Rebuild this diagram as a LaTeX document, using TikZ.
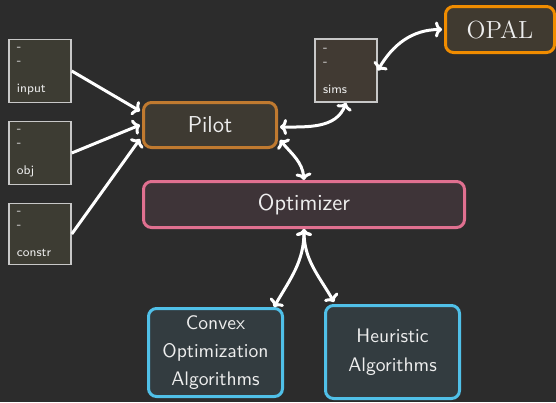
\documentclass[tikz,border=0pt]{standalone}
\usepackage{tikz}
\usetikzlibrary{arrows.meta}
\definecolor{bgcol}{HTML}{2C2C2C}
\definecolor{txtcol}{HTML}{EDEDED}
\definecolor{slotline}{HTML}{C8C8C8}
\definecolor{slotfill}{HTML}{3D3C33}
\definecolor{simsfill}{HTML}{413A33}
\definecolor{pilotline}{HTML}{C07A30}
\definecolor{pilotfill}{HTML}{3E3A32}
\definecolor{opalline}{HTML}{F08C00}
\definecolor{opalfill}{HTML}{403A30}
\definecolor{optline}{HTML}{E07090}
\definecolor{optfill}{HTML}{3E3438}
\definecolor{algline}{HTML}{50C0E8}
\definecolor{algfill}{HTML}{333C40}
\begin{document}
\begin{tikzpicture}[x=0.5pt,y=-0.5pt,>={To[length=3.5pt,width=8pt]}]
\tikzstyle{every node}+=[text=txtcol,font=\sffamily]
\tikzstyle{slot}=[draw=slotline,fill=slotfill,line width=0.75pt,minimum width=31pt,minimum height=31.5pt,text width=23pt,align=left,inner sep=0pt,font=\sffamily\fontsize{6.3}{7}\selectfont]
\tikzstyle{block}=[rounded corners=4pt,line width=1.5pt,inner sep=0pt,align=center]
\tikzstyle{link}=[draw=white,line width=1.5pt]
% background
\fill [bgcol] (0,0) rectangle (556,402);
\useasboundingbox (0,0) rectangle (556,402);
% data files
\node [slot] (input) at (40,71) {-\\-\\[7pt]input};
\node [slot] (obj) at (40,153) {-\\-\\[7pt]obj};
\node [slot, minimum height=30.5pt] (constr) at (40,234) {-\\-\\[7pt]constr};
\node [slot, fill=simsfill] (sims) at (346,70.5) {-\\-\\[7pt]sims};
% main blocks
\node [block, draw=pilotline, fill=pilotfill, minimum width=66.5pt, minimum height=22.5pt, font=\sffamily\fontsize{11.5}{14}\selectfont] (Pilot) at (210,125) {Pilot};
\node [block, draw=opalline, fill=opalfill, minimum width=54.5pt, minimum height=23pt, font=\rmfamily\fontsize{12.4}{15}\selectfont] (OPAL) at (500,29.5) {OPAL};
\node [block, draw=optline, fill=optfill, minimum width=160.5pt, minimum height=23pt, font=\sffamily\fontsize{11.5}{14}\selectfont] (Optimizer) at (304,204.5) {Optimizer};
\node [block, draw=algline, fill=algfill, minimum width=67pt, minimum height=44pt, font=\sffamily\fontsize{9.8}{14}\selectfont] (Convex) at (215.5,352.5) {Convex\\Optimization\\Algorithms};
\node [block, draw=algline, fill=algfill, minimum width=67pt, minimum height=46.5pt, font=\sffamily\fontsize{9.8}{14.5}\selectfont] (Heuristic) at (392.5,352) {Heuristic\\Algorithms};
% connectors
\draw [link,->] (input.east) -- ([xshift=-1pt,yshift=7pt]Pilot.west);
\draw [link,->] (obj.east) -- ([xshift=-1pt]Pilot.west);
\draw [link,->] (constr.east) -- ([xshift=-1pt,yshift=-7pt]Pilot.west);
\draw [link,<->] ([xshift=1pt,yshift=-1pt]Pilot.east) to[out=0,in=-110] (sims.south);
\draw [link,<->] (sims.east) to[out=60,in=180] ([xshift=-1pt]OPAL.west);
\draw [link,<->] ([xshift=1pt,yshift=-7.5pt]Pilot.east) to[out=-50,in=95] (Optimizer.north);
\draw [link,<->] (Optimizer.south) to[out=-90,in=60] ([xshift=-5pt]Convex.north east);
\draw [link,<->] (Optimizer.south) to[out=-90,in=120] ([xshift=5pt,yshift=1pt]Heuristic.north west);
\end{tikzpicture}
\end{document}
